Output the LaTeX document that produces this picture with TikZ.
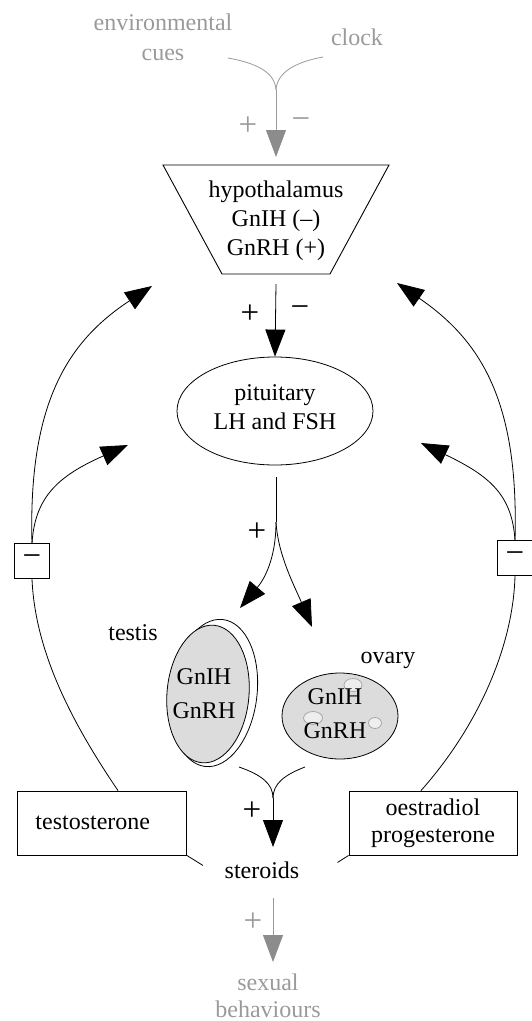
\documentclass[tikz,border=0pt]{standalone}
\usepackage{fontspec}
\setmainfont{Liberation Serif}
\usetikzlibrary{arrows.meta,shapes.geometric}
\definecolor{cuegray}{HTML}{9A9A9A}
\definecolor{headgray}{HTML}{8C8C8C}
\definecolor{organfill}{HTML}{DCDCDC}
\definecolor{follfill}{HTML}{EDEFED}
\definecolor{follline}{HTML}{A8A8A8}
\begin{document}
\begin{tikzpicture}[x=1pt,y=-1pt,
  every node/.style={font=\fontsize{24}{29}\selectfont, inner sep=0pt},
  txt/.style={align=center},
  greytxt/.style={align=center, text=cuegray},
  sign/.style={font=\fontsize{33}{34}\selectfont},
  ln/.style={line width=0.8pt},
  tip/.style={ln, -{Triangle[length=27pt,width=20pt]}},
  greytip/.style={line width=0.8pt, draw=cuegray, -{Triangle[length=27pt,width=20pt,fill=headgray,color=headgray]}},
  box/.style={draw, line width=0.9pt, rectangle},
  minusbox/.style={draw, line width=0.9pt, rectangle, minimum width=35pt, minimum height=35pt, font=\fontsize{33}{34}\selectfont},
  organ/.style={draw, line width=0.8pt, fill=organfill, ellipse},
  follicle/.style={draw=follline, line width=0.8pt, fill=follfill}
]
\useasboundingbox (0,0) rectangle (531,1021);

% ---------- environmental input ----------
\node[greytxt, font=\fontsize{24}{30}\selectfont] (env) at (163,37) {environmental\\cues};
\node[greytxt] (clock) at (357,37) {clock};
\coordinate (envS) at (228,58);
\coordinate (clkS) at (323,57);
\coordinate (cueM) at (276,90);
\coordinate (cueT) at (276,157);
\draw[line width=0.8pt, draw=cuegray] (envS) .. controls (256,63) and (275,72) .. (cueM);
\draw[line width=0.8pt, draw=cuegray] (clkS) .. controls (296,62) and (277,72) .. (cueM);
\draw[greytip] (cueM) -- (cueT);
\node[sign, text=cuegray] (cuePlus) at (248,126) {+};
\node[sign, text=cuegray] (cueMinus) at (301,124) {−};

% ---------- hypothalamus ----------
\coordinate (hTL) at (163,165);
\coordinate (hTR) at (389,165);
\coordinate (hBR) at (330,274);
\coordinate (hBL) at (222,274);
\draw[line width=0.9pt] (hTL) -- (hTR) -- (hBR) -- (hBL) -- cycle;
\node[txt] (hypo) at (276,221) {hypothalamus\\GnIH (–)\\GnRH (+)};
\coordinate (hypoOut) at (276,284);

% ---------- pituitary ----------
\node[draw, ellipse, line width=0.8pt, minimum width=196pt, minimum height=108pt] (pit) at (275,411) {};
\node[txt] (pitTxt) at (275,407) {pituitary\\LH and FSH};
\draw[tip] (hypoOut) -- (pit.north);
\node[sign] (hpPlus) at (250,314) {+};
\node[sign] (hpMinus) at (300,312) {−};

% ---------- branching to gonads ----------
\coordinate (pitOut) at (276,477);
\coordinate (pitBr) at (276,522);
\coordinate (toTestis) at (240,608);
\coordinate (toOvary) at (312,627);
\draw[ln] (pitOut) -- (pitBr);
\draw[tip] (pitBr) .. controls (276,562) and (262,582) .. (toTestis);
\draw[tip] (pitBr) .. controls (278,555) and (294,585) .. (toOvary);
\node[sign] (gPlus) at (257,532) {+};

% ---------- testis ----------
\node[txt] (testisLbl) at (133,633) {testis};
\draw[line width=0.8pt, fill=white, rotate around={-7:(214,693)}] (214,693) ellipse [x radius=43, y radius=74];
\node[organ, rotate=-5, minimum width=82pt, minimum height=138pt] (testis) at (208,694) {};
\node[txt, font=\fontsize{24}{34}\selectfont] (testisTxt) at (204,694) {GnIH\\GnRH};

% ---------- ovary ----------
\node[txt] (ovaryLbl) at (388,660) {ovary};
\node[organ, minimum width=116pt, minimum height=86pt] (ovary) at (340,716) {};
\draw[follicle] (353,685) ellipse [x radius=9, y radius=6.5];
\draw[follicle] (313,718) ellipse [x radius=9.5, y radius=6.5];
\draw[follicle] (375,723) ellipse [x radius=6.5, y radius=5.5];
\node[txt, font=\fontsize{24}{34}\selectfont] (ovaryTxt) at (335,714) {GnIH\\GnRH};

% ---------- gonads to steroids ----------
\coordinate (tOut) at (239,767);
\coordinate (oOut) at (305,767);
\coordinate (gM) at (273,798);
\coordinate (stTip) at (273,847);
\draw[ln] (tOut) .. controls (262,775) and (273,784) .. (gM);
\draw[ln] (oOut) .. controls (284,775) and (273,784) .. (gM);
\draw[tip] (gM) -- (stTip);
\node[sign] (stPlus) at (252,811) {+};

\node[txt] (steroids) at (262,870) {steroids};

% ---------- hormone boxes ----------
\node[box, anchor=west, text width=133pt, inner xsep=18pt, align=left, minimum height=64pt] (testo) at (17,823) {testosterone};
\node[box, minimum width=168pt, minimum height=64pt, align=center, font=\fontsize{24}{27}\selectfont] (oest) at (433,823) {oestradiol\\progesterone};
\draw[ln] (testo.south east) -- ++(16,10);
\draw[ln] (oest.south west) -- ++(-11,7);

% ---------- behaviour ----------
\coordinate (sbStart) at (273,898);
\coordinate (sbTip) at (273,962);
\draw[greytip] (sbStart) -- (sbTip);
\node[sign, text=cuegray] (sbPlus) at (253,922) {+};
\node[greytxt, font=\fontsize{24}{27}\selectfont] (behav) at (268,996) {sexual\\behaviours};

% ---------- left feedback ----------
\node[minusbox] (mL) at (32,561) {−};
\coordinate (fbLhyp) at (152,286);
\coordinate (fbLpit) at (128,445);
\draw[tip] (mL.north) .. controls (28,400) and (70,340) .. (fbLhyp);
\draw[tip] (mL.north) .. controls (35,497) and (58,476) .. (fbLpit);
\draw[ln] (mL.south) .. controls (35,650) and (70,720) .. (testo.north -| 118,0);

% ---------- right feedback ----------
\node[minusbox] (mR) at (515,558) {−};
\coordinate (fbRhyp) at (397,283);
\coordinate (fbRpit) at (421,443);
\draw[tip] (mR.north) .. controls (519,400) and (480,340) .. (fbRhyp);
\draw[tip] (mR.north) .. controls (512,495) and (490,476) .. (fbRpit);
\draw[ln] (mR.south) .. controls (513,650) and (475,730) .. (oest.north -| 421,0);
\end{tikzpicture}
\end{document}
